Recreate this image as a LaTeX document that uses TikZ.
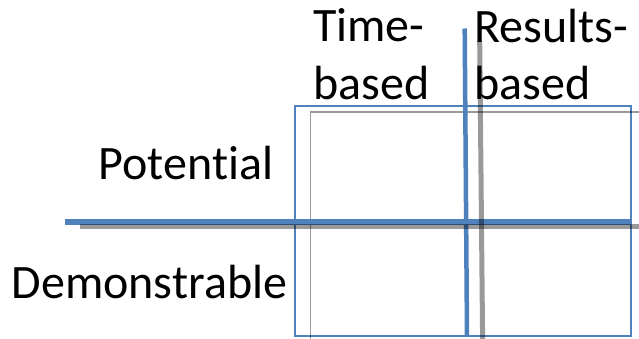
\documentclass[tikz,border=0pt]{standalone}
\usepackage{fontspec}
\setmainfont[Ligatures=NoCommon]{Carlito}
\definecolor{officeblue}{HTML}{4F81BD}
\begin{document}
\begin{tikzpicture}[x=1pt,y=-1pt,
  lbl/.style={anchor=base west,inner sep=0pt,font=\fontsize{48}{56}\selectfont},
  blueline/.style={draw=officeblue},
  shadowline/.style={draw=black,draw opacity=0.4}]
\useasboundingbox (0,0) rectangle (639,338);
\clip (0,0) rectangle (639,338);
% blue frame
\draw[blueline,line width=1.5] (295,106) rectangle (631,336);
% gray frame
\draw[shadowline,line width=1.5] (310.5,112) rectangle (660,360);
% blue axes
\coordinate (hL) at (65,222);
\coordinate (hR) at (630,222);
\coordinate (vT) at (464.7,28.5);
\coordinate (vB) at (467,336.5);
\draw[blueline,line width=5.5] (hL) -- (hR);
\draw[blueline,line width=4.5] (vT) -- (vB);
% gray axes
\coordinate (gL) at (80,226.8);
\coordinate (gR) at (660,226.8);
\coordinate (gT) at (479.7,41);
\coordinate (gB) at (482.8,360);
\draw[shadowline,line width=5] (gL) -- (gR);
\draw[shadowline,line width=5] (gT) -- (gB);
% labels
\node[lbl] (t1) at (313,41) {Time-};
\node[lbl] (t2) at (313,99.5) {based};
\node[lbl] (r1) at (474.5,42) {Results-};
\node[lbl] (r2) at (474.5,99.5) {based};
\node[lbl] (p) at (98.5,179) {Potential};
\node[lbl] (d) at (11.5,298) {Demonstrable};
\end{tikzpicture}
\end{document}
